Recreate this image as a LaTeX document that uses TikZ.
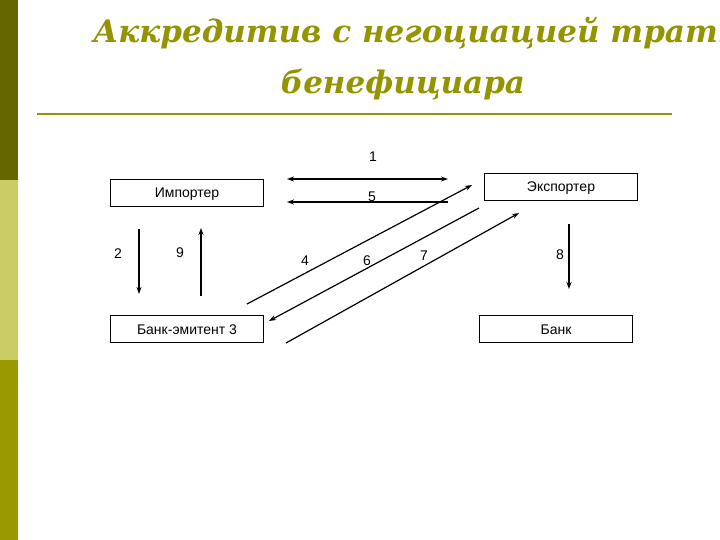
\documentclass[tikz,border=0pt]{standalone}
\usepackage{fontspec}
\setmainfont{Liberation Serif}
\setsansfont{Liberation Sans}
\newfontfamily\titlefont{DejaVu Serif}
\usetikzlibrary{arrows.meta}
\definecolor{barDark}{HTML}{666600}
\definecolor{barLight}{HTML}{CCCC66}
\definecolor{barOlive}{HTML}{999900}
\definecolor{titleOlive}{HTML}{949400}
\begin{document}
\begin{tikzpicture}[x=1pt, y=-1pt, font=\sffamily\fontsize{14}{16}\selectfont,
    box/.style={draw, line width=0.8pt, minimum width=153pt, minimum height=27pt, inner sep=0pt, text height=10pt, text depth=0pt},
    flow/.style={line width=1.2pt, -{Stealth[length=7pt,width=5pt]}},
    headline/.style={text=titleOlive, inner sep=0pt, font=\titlefont\bfseries\itshape\fontsize{31}{34}\selectfont},
    num/.style={inner sep=0pt}]
  \clip (0,0) rectangle (720,540);
  \fill[white] (0,0) rectangle (720,540);
  \fill[barDark] (0,0) rectangle (18,180);
  \fill[barLight] (0,180) rectangle (18,360);
  \fill[barOlive] (0,360) rectangle (18,540);
  \node[headline, anchor=base west] (title1) at (93,43) {Аккредитив с негоциацией тратт};
  \node[headline, anchor=base] (title2) at (403,94) {бенефициара};
  \draw[titleOlive, line width=2pt] (37,114) -- (672,114);
  \node[box] (importer) at (187,192.5) {Импортер};
  \node[box] (exporter) at (561,187) {Экспортер};
  \node[box] (issuer) at (187,329) {Банк-эмитент 3};
  \node[box] (bank) at (556,329) {Банк};
  \coordinate (a1) at (287,179);   \coordinate (b1) at (448,179);
  \coordinate (a5) at (448,202);   \coordinate (b5) at (287,202);
  \coordinate (a4) at (247,304);   \coordinate (b4) at (472,185);
  \coordinate (a6) at (479,208);   \coordinate (b6) at (269,321);
  \coordinate (a7) at (286,343);   \coordinate (b7) at (519,213);
  \coordinate (a2) at (139,229);   \coordinate (b2) at (139,294);
  \coordinate (a9) at (201,296);   \coordinate (b9) at (201,228);
  \coordinate (a8) at (569,224);   \coordinate (b8) at (569,289);
  \draw[flow, {Stealth[length=7pt,width=5pt]}-{Stealth[length=7pt,width=5pt]}] (a1) -- (b1);
  \foreach \s in {5,4,6,7,2,9,8}
    \draw[flow] (a\s) -- (b\s);
  \foreach \n/\x/\y in {1/373/157, 5/372/197, 4/305/261, 6/367/261, 7/424/256, 2/118/254, 9/180/253, 8/560/255}
    \node[num] (lab\n) at (\x,\y) {\n};
\end{tikzpicture}
\end{document}
